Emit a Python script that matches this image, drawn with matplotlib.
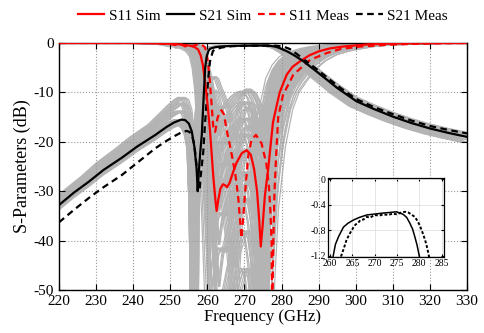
import numpy as np
import matplotlib
matplotlib.use("Agg")
import matplotlib.pyplot as plt

plt.rcParams['font.family'] = ['Liberation Serif', 'DejaVu Serif']
plt.rcParams['axes.unicode_minus'] = False

# ---------------- data ----------------
s11_sim_f = [220, 240, 248, 252, 255, 256.5, 257.5, 258.2, 258.8, 259.4, 260.0, 260.7, 261.6,
             262.2, 262.5, 262.9, 263.5, 264.2, 264.8, 265.3, 266.0, 267.0, 267.9, 269.3, 270.6,
             271.7, 272.6, 273.4, 274.0, 274.4, 274.9, 275.5, 276.4, 277.7, 279.5, 281.4, 283.0,
             285.0, 287.5, 290.0, 293.0, 296.8, 303.0, 310.0, 320.0, 330.0]
s11_sim_db = [0, 0, -0.1, -0.25, -0.5, -0.8, -1.3, -2.5, -4.5, -8.0, -12.0, -17.6, -27.0,
              -32.0, -34.0, -32.0, -29.5, -28.6, -28.8, -29.2, -28.3, -26.0, -24.2, -22.3, -21.7,
              -22.6, -25.5, -30.0, -36.0, -41.2, -37.0, -31.0, -25.5, -16.0, -10.0, -6.4, -4.8,
              -3.7, -2.5, -1.7, -1.1, -0.7, -0.3, -0.1, -0.03, 0]

s11_meas_f = [220, 245, 250, 252, 253, 254, 255, 256, 257.5, 258.5, 259.3, 259.8, 260.2, 260.7,
              261.1, 261.6, 262.1, 262.8, 263.8, 264.5, 265.2, 266.3, 267.5, 268.3, 268.8, 269.2,
              269.6, 270.1, 271.0, 271.9, 273.1, 274.6, 275.9, 276.6, 277.0, 277.3, 277.5, 277.8,
              278.1, 278.6, 279.1, 280.4, 283.2, 287.7, 292.3, 296.0, 301.4, 310.0, 320.0, 330.0]
s11_meas_db = [0, 0, -0.2, -0.5, -0.3, -0.7, -0.4, -0.6, -0.3, -0.4, -0.8, -2.0, -4.0, -8.0,
               -12.0, -17.0, -18.0, -15.0, -13.6, -14.5, -17.6, -21.5, -26.4, -31.0, -35.8, -39.5,
               -36.0, -31.0, -23.0, -19.6, -18.6, -20.3, -24.4, -29.0, -34.0, -40.0, -55.0, -40.0,
               -30.0, -22.0, -15.0, -10.5, -6.4, -3.4, -2.0, -1.2, -0.7, -0.3, -0.1, 0]

s21_sim_f = [220, 224, 228, 232, 237, 241, 246, 249, 251, 253, 254, 255, 255.8, 256.5, 257.1,
             257.4, 257.7, 258.1, 258.5, 259.0, 259.4, 259.8, 260.3, 260.7, 261.2, 261.9, 263.0,
             264.0, 265.2, 266.5, 268.2, 270.0, 271.9, 273.5, 274.9, 276.4, 277.2, 277.9, 278.5,
             279.0, 279.5, 280.0, 281.5, 283.2, 285.9, 290.0, 295.0, 300.2, 305.0, 310.0, 315.0,
             320.0, 325.0, 330.0]
s21_sim_db = [-32.8, -30.3, -28.1, -25.7, -23.2, -21.0, -18.6, -17.0, -16.1, -15.5, -15.6, -16.3,
              -17.9, -21.0, -25.4, -30.0, -26.0, -22.0, -18.6, -11.0, -5.1, -2.8, -1.6, -1.2,
              -1.02, -0.9, -0.75, -0.69, -0.64, -0.6, -0.56, -0.545, -0.53, -0.52, -0.51, -0.55,
              -0.6, -0.69, -0.78, -0.9, -1.03, -1.2, -1.7, -2.4, -3.7, -6.1, -9.1, -11.8, -13.4,
              -14.9, -16.2, -17.3, -18.2, -19.0]

s21_meas_f = [220, 224, 228, 232, 237, 241, 246, 249, 251, 253, 254.4, 255.2, 255.8, 256.3, 256.7,
              257.2, 257.6, 257.9, 258.2, 258.9, 259.4, 259.8, 260.2, 260.7, 261.5, 262.5, 263.0,
              263.7, 264.2, 264.6, 265.2, 265.7, 266.2, 266.8, 267.5, 268.2, 269.0, 270.0, 271.0,
              272.0, 273.0, 274.0, 275.0, 276.0, 276.8, 277.5, 278.2, 278.8, 279.4, 280.1, 280.7,
              281.3, 281.8, 282.3, 283.0, 286.0, 290.0, 295.0, 300.0, 305.0, 310.0, 315.0, 320.0,
              325.0, 330.0]
s21_meas_db = [-36.3, -33.8, -31.4, -29.2, -26.7, -24.3, -21.3, -19.8, -18.9, -18.1, -17.8, -18.0,
               -18.6, -20.0, -22.0, -25.5, -28.7, -29.8, -27.0, -22.0, -16.0, -11.9, -7.5, -3.8,
               -1.6, -1.2, -1.1, -0.95, -0.88, -0.83, -0.76, -0.71, -0.69, -0.64, -0.63, -0.59,
               -0.6, -0.56, -0.57, -0.55, -0.56, -0.54, -0.55, -0.52, -0.51, -0.52, -0.55, -0.58,
               -0.63, -0.72, -0.83, -0.95, -1.08, -1.25, -1.6, -3.3, -5.6, -8.6, -11.3, -13.0,
               -14.4, -15.7, -16.8, -17.6, -18.3]

# spread of the grey tolerance ensemble around S21 Sim (per S21 Sim point)
s21_spread_up = [0.7, 0.9, 1.1, 1.4, 1.7, 1.9, 2.1, 2.7, 3.3, 4.0, 4.6, 4.8, 4.5, 3.0, 0, 0, 0, 0, 0,
                 0, 0, 0, 0, 0, 0, 0, 0, 0, 0, 0, 0, 0, 0, 0, 0, 0, 0, 0, 0, 0, 0, 0.1, 0.3, 0.5,
                 0.7, 0.8, 0.9, 0.9, 0.9, 0.9, 0.9, 0.9, 0.9, 0.9]
s21_spread_dn = [1.0, 1.0, 1.0, 1.0, 1.0, 1.0, 1.0, 1.0, 1.0, 1.0, 1.0, 1.0, 0.8, 0.5, 0, 0, 0, 0, 0,
                 0, 0, 0, 0, 0, 0, 0, 0, 0, 0, 0, 0, 0, 0, 0, 0, 0, 0, 0, 0, 0, 0, 0.1, 0.3, 0.5,
                 0.7, 0.9, 1.0, 1.0, 1.0, 1.0, 1.0, 1.0, 1.0, 1.0]

# grey ensemble parameters
g11_shift = [-1.8, -1.4, -1.0, -0.6, -0.2, 0.2, 0.6, 1.0]
g11_stretch = [1.06, 0.95, 1.03, 0.98, 1.08, 0.93, 1.0, 1.04]
g11_scale = [0.45, 0.55, 0.7, 0.85, 1.0, 1.2, 1.45, 1.75, 2.1]
g11m_shift = [-2.6, -2.2, -1.8, -1.4]
g11m_scale = [0.5, 0.7, 0.9, 1.15, 1.5]
g21_shift = [-2.0, -1.6, -1.2, -0.8, -0.4, 0.0]
g21_t = [-1.0, -0.5, 0.0, 0.4, 0.75, 1.0]
g21_depth = [-52, -60, -70, -55, -65, -75]

legend_labels = ['S11 Sim', 'S21 Sim', 'S11 Meas', 'S21 Meas']

# ---------------- figure ----------------
fig = plt.figure(figsize=(4.85, 3.33), dpi=100)
ax = fig.add_axes([0.1216, 0.1291, 0.8413, 0.7418])

grey = '#b4b4b4'
f11 = np.array(s11_sim_f)
d11 = np.array(s11_sim_db)
for i, sh in enumerate(g11_shift):
    for k in g11_scale:
        x = 266 + (f11 - 266) * g11_stretch[i] + sh
        y = np.maximum(d11 * k, -80)
        ax.plot(x, y, color=grey, lw=0.9, zorder=1)
f11m = np.array(s11_meas_f)
d11m = np.array(s11_meas_db)
for sh in g11m_shift:
    for k in g11m_scale:
        ax.plot(f11m + sh, np.maximum(d11m * k, -80), color=grey, lw=0.9, zorder=1)

f21 = np.array(s21_sim_f)
d21 = np.array(s21_sim_db)
up = np.array(s21_spread_up)
dn = np.array(s21_spread_dn)
izero = s21_sim_f.index(257.4)
for sh, dep in zip(g21_shift, g21_depth):
    for t in g21_t:
        y = d21 + (t * up if t >= 0 else t * dn)
        y = y.copy()
        y[izero] = dep
        y[izero - 1] = d21[izero - 1] - 8
        y[izero + 1] = d21[izero + 1] - 8
        ax.plot(f21 + sh, y, color=grey, lw=0.9, zorder=1)

l1, = ax.plot(s11_sim_f, s11_sim_db, color='red', lw=1.6, zorder=4)
l2, = ax.plot(s21_sim_f, s21_sim_db, color='black', lw=1.6, zorder=4)
l3, = ax.plot(s11_meas_f, s11_meas_db, color='red', lw=1.6, ls=(0, (3, 2)), zorder=3)
l4, = ax.plot(s21_meas_f, s21_meas_db, color='black', lw=1.6, ls=(0, (3, 2)), zorder=3)

ax.set_xlim(220, 330)
ax.set_ylim(-50, 0)
ax.set_xticks(np.arange(220, 331, 10))
ax.set_yticks(np.arange(-50, 1, 10))
ax.grid(True, ls=':', color='#999999', lw=0.8)
ax.tick_params(direction='in', top=True, right=True, labelsize=11, length=4)
ax.set_xlabel('Frequency (GHz)', fontsize=12, labelpad=1)
ax.set_ylabel('S-Parameters (dB)', fontsize=13, labelpad=2)
for s in ax.spines.values():
    s.set_linewidth(1.0)

fig.legend([l1, l2, l3, l4], legend_labels, loc='center', bbox_to_anchor=(0.542, 0.952),
           ncol=4, frameon=False, fontsize=11, handlelength=1.75, handletextpad=0.3,
           columnspacing=0.45)

# inset
axi = fig.add_axes([0.676, 0.228, 0.239, 0.2375])
axi.set_facecolor('white')
axi.plot(s21_sim_f, s21_sim_db, color='black', lw=1.1)
axi.plot(s21_meas_f, s21_meas_db, color='black', lw=1.4, ls=(0, (1.5, 1)))
axi.set_xlim(259.5, 285.5)
axi.set_ylim(-1.22, 0.02)
axi.set_xticks([260, 265, 270, 275, 280, 285])
axi.set_yticks([0, -0.4, -0.8, -1.2])
axi.set_yticklabels(['0', '-0.4', '-0.8', '-1.2'])
axi.grid(True, ls='-', color='#e0e0e0', lw=0.6)
axi.tick_params(direction='in', top=True, right=True, labelsize=7, length=2.5, pad=1.5)
for s in axi.spines.values():
    s.set_linewidth(0.9)

fig.savefig('out.png', dpi=100)
